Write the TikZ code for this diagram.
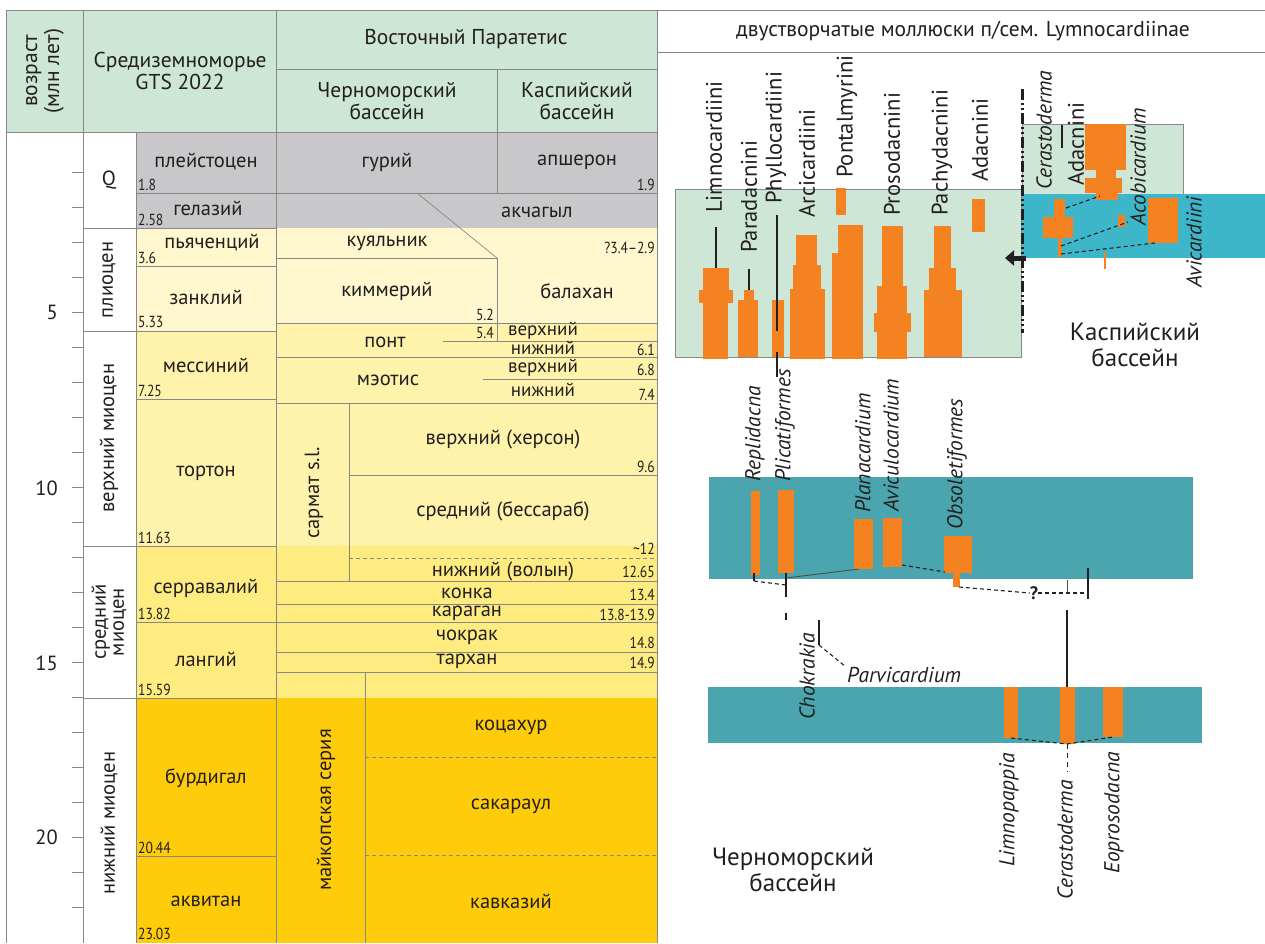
\documentclass[tikz,border=0pt]{standalone}
\usepackage{fontspec}
\setmainfont{PT Sans}
\newfontfamily\numfont[FakeStretch=0.85]{PT Sans}
\usetikzlibrary{arrows.meta}
\definecolor{hdr}{RGB}{205,230,213}
\definecolor{gry}{RGB}{200,200,203}
\definecolor{plio}{RGB}{255,247,205}
\definecolor{umio}{RGB}{255,243,172}
\definecolor{mmio}{RGB}{255,236,128}
\definecolor{lmio}{RGB}{254,204,10}
\definecolor{gridc}{RGB}{135,135,135}
\definecolor{orng}{RGB}{245,130,32}
\definecolor{cyanb}{RGB}{62,182,202}
\definecolor{tealb}{RGB}{75,165,175}
\definecolor{ink}{RGB}{35,31,32}
\begin{document}
\begin{tikzpicture}[x={(1pt,0)},y={(0,-1pt)},
  grid/.style={draw=gridc, line width=0.7pt},
  griddash/.style={grid, dash pattern=on 4pt off 3pt},
  txt/.style={font=\fontsize{20.5}{19}\selectfont, inner sep=0pt, align=center, text=ink},
  sml/.style={font=\fontsize{19}{19}\selectfont, inner sep=0pt, align=center, text=ink},
  hd/.style={font=\fontsize{21.5}{22}\selectfont, inner sep=0pt, align=center, text=ink},
  num/.style={font=\numfont\fontsize{16}{17}\selectfont, inner sep=0pt, text=ink},
  lab/.style={font=\fontsize{22.5}{23}\selectfont, inner sep=0pt, rotate=90, anchor=west, text=ink},
  gen/.style={font=\itshape\fontsize{21.5}{22}\selectfont, inner sep=0pt, rotate=90, anchor=west, text=ink},
  big/.style={font=\fontsize{25}{26}\selectfont, inner sep=0pt, align=center, text=ink},
  tax/.style={line width=2.5pt, ink},
  dl/.style={draw=ink, line width=1.1pt, dash pattern=on 4pt off 3pt},
  ob/.style={fill=orng}]
\useasboundingbox (0,0) rectangle (1265,943);
\fill[white] (0,0) rectangle (1265,943);
% ---------- fills of the table
\fill[hdr] (6,10) rectangle (657,132);
\fill[gry] (136,132) rectangle (657,228);
\fill[plio] (136,228) rectangle (276,331);
\fill[plio] (276,228) rectangle (657,323);
\fill[umio] (136,331) rectangle (276,546);
\fill[umio] (276,323) rectangle (657,546);
\fill[mmio] (136,546) rectangle (657,698);
\fill[lmio] (136,698) rectangle (657,943);
% ---------- grid
\draw[grid] (6,10) -- (1265,10);
\draw[grid] (657,52) -- (1265,52);
\draw[grid] (6,132) -- (657,132);
\draw[grid] (276,69) -- (657,69);
\draw[grid] (497,69) -- (497,132);
\draw[grid] (6,10) -- (6,943);
\draw[grid] (83,10) -- (83,943);
\draw[grid] (136,132) -- (136,943);
\draw[grid] (276,10) -- (276,943);
\draw[grid] (657,10) -- (657,943);
\foreach \yy in {228,331,546,698} \draw[grid] (83,\yy) -- (276,\yy);
\foreach \yy in {193,266,399,622,856} \draw[grid] (136,\yy) -- (276,\yy);
\foreach \t in {1,...,22} \draw[grid] (72,137.5+35*\t) -- (83,137.5+35*\t);
% Paratethys lines
\draw[grid] (276,193) -- (657,193);
\draw[grid] (417,193) -- (497,258);
\draw[grid] (276,258) -- (497,258);
\draw[grid] (497,132) -- (497,193);
\draw[grid] (497,258) -- (497,341);
\draw[grid] (276,323) -- (657,323);
\draw[grid] (443,341) -- (657,341);
\draw[grid] (276,357) -- (657,357);
\draw[grid] (483,379) -- (657,379);
\draw[grid] (276,403) -- (657,403);
\draw[grid] (349,403) -- (349,581);
\draw[grid] (349,475) -- (657,475);
\draw[griddash] (349,558) -- (657,558);
\foreach \yy in {581,604,622,652,672} \draw[grid] (276,\yy) -- (657,\yy);
\draw[grid] (365,672) -- (365,943);
\draw[griddash] (365,757) -- (657,757);
\draw[griddash] (365,855) -- (657,855);
% ---------- header texts
\node[hd, rotate=90] (hage) at (45,71) {возраст\\(млн лет)};
\node[hd] (hmed) at (180,71) {Средиземноморье\\GTS 2022};
\node[hd] (hpar) at (466,39) {Восточный Паратетис};
\node[hd] (hbs) at (387,101) {Черноморский\\бассейн};
\node[hd] (hcs) at (577,101) {Каспийский\\бассейн};
\node[hd] (hmol) at (963,31) {двустворчатые моллюски п/сем. Lymnocardiinae};
% ---------- age axis
\node[txt, anchor=east] (a5) at (58,312) {5};
\node[txt, anchor=east] (a10) at (58,488) {10};
\node[txt, anchor=east] (a15) at (58,663) {15};
\node[txt, anchor=east] (a20) at (58,837) {20};
% ---------- epochs
\node[txt] (eq) at (109,180) {Q};
\node[txt, rotate=90] (epl) at (109,280) {плиоцен};
\node[txt, rotate=90] (eum) at (109,438) {верхний миоцен};
\node[txt, rotate=90, font=\fontsize{20.5}{18}\selectfont] (emm) at (109,622) {средний\\миоцен};
\node[txt, rotate=90] (elm) at (109,823) {нижний миоцен};
% ---------- stages
\node[txt] (s1) at (206,162) {плейстоцен};
\node[txt] (s2) at (208,208) {гелазий};
\node[txt] (s3) at (212,243) {пьяченций};
\node[txt] (s4) at (206,297) {занклий};
\node[txt] (s5) at (206,365) {мессиний};
\node[txt] (s6) at (206,473) {тортон};
\node[txt] (s7) at (206,588) {серравалий};
\node[txt] (s8) at (206,659) {лангий};
\node[txt] (s9) at (206,778) {бурдигал};
\node[txt] (s10) at (206,901) {аквитан};
\node[num, anchor=base west] (n1) at (138,190) {1.8};
\node[num, anchor=base west] (n2) at (138,225) {2.58};
\node[num, anchor=base west] (n3) at (138,263) {3.6};
\node[num, anchor=base west] (n4) at (138,327) {5.33};
\node[num, anchor=base west] (n5) at (138,396) {7.25};
\node[num, anchor=base west] (n6) at (138,543) {11.63};
\node[num, anchor=base west] (n7) at (138,619) {13.82};
\node[num, anchor=base west] (n8) at (138,695) {15.59};
\node[num, anchor=base west] (n9) at (138,853) {20.44};
\node[num, anchor=base west] (n10) at (138,939) {23.03};
% ---------- Paratethys
\node[txt] (p1) at (387,162) {гурий};
\node[txt] (p2) at (577,162) {апшерон};
\node[txt] (p3) at (537,212) {акчагыл};
\node[txt] (p4) at (387,243) {куяльник};
\node[txt] (p5) at (387,291) {киммерий};
\node[txt] (p6) at (577,291) {балахан};
\node[txt] (p7) at (385,342) {понт};
\node[sml] (p8) at (543,331) {верхний};
\node[sml] (p9) at (543,348) {нижний};
\node[txt] (p10) at (388,380) {мэотис};
\node[sml] (p11) at (543,368) {верхний};
\node[sml] (p12) at (543,390) {нижний};
\node[txt, rotate=90] (p13) at (314,493) {сармат s.l.};
\node[txt] (p14) at (503,439) {верхний (херсон)};
\node[txt] (p15) at (503,511) {средний (бессараб)};
\node[txt] (p16) at (503,571) {нижний (волын)};
\node[txt] (p17) at (467,593) {конка};
\node[txt] (p18) at (467,613) {караган};
\node[txt] (p19) at (467,637) {чокрак};
\node[txt] (p20) at (467,661) {тархан};
\node[txt, rotate=90] (p21) at (326,810) {майкопская серия};
\node[txt] (p22) at (511,727) {коцахур};
\node[txt] (p23) at (511,806) {сакараул};
\node[txt] (p24) at (511,901) {кавказий};
\node[num, anchor=base east] (m1) at (655,190) {1.9};
\node[num, anchor=base east] (m2) at (655,253) {?3.4–2.9};
\node[num, anchor=base east] (m3) at (494,320) {5.2};
\node[num, anchor=base east] (m4) at (494,338) {5.4};
\node[num, anchor=base east] (m5) at (655,355) {6.1};
\node[num, anchor=base east] (m6) at (655,375) {6.8};
\node[num, anchor=base east] (m7) at (655,400) {7.4};
\node[num, anchor=base east] (m8) at (655,472) {9.6};
\node[num, anchor=base east] (m9) at (655,554) {\textasciitilde12};
\node[num, anchor=base east] (m10) at (655,577) {12.65};
\node[num, anchor=base east] (m11) at (655,600) {13.4};
\node[num, anchor=base east] (m12) at (655,620) {13.8-13.9};
\node[num, anchor=base east] (m13) at (655,648) {14.8};
\node[num, anchor=base east] (m14) at (655,668) {14.9};
% ================= right panel
\fill[hdr, draw=gridc, line width=0.6pt] (675,189) rectangle (1021,357);
\fill[hdr, draw=gridc, line width=0.6pt] (1022,124) rectangle (1183,194);
\fill[cyanb] (1022,194) rectangle (1265,258);
\fill[tealb] (709,477) rectangle (1193,579);
\fill[tealb] (708,687) rectangle (1202,743);
% Limnocardiini
\draw[tax] (716,227) -- (716,268);
\fill[ob] (703,268) rectangle (729,290);
\fill[ob] (699,290) rectangle (733,303);
\fill[ob] (703,303) rectangle (728,359);
% Paradacnini
\draw[tax] (749,269) -- (749,290);
\fill[ob] (744,290) rectangle (754,300);
\fill[ob] (738,300) rectangle (758,357);
% Phyllocardiini
\fill[ob] (772,300) rectangle (784,357);
\draw[tax] (777,215) -- (777,331);
\draw[tax] (777,352) -- (777,377);
% Arcicardiini
\fill[ob] (796,235) rectangle (817,265);
\fill[ob] (793,265) rectangle (821,289);
\fill[ob] (790,289) rectangle (825,359);
% Pontalmyrini
\fill[ob] (836,188) rectangle (846,215);
\fill[ob] (838,225) rectangle (863,253);
\fill[ob] (832,253) rectangle (863,359);
% Prosodacnini
\fill[ob] (882,226) rectangle (903,286);
\fill[ob] (877,286) rectangle (907,313);
\fill[ob] (874,313) rectangle (911,332);
\fill[ob] (877,332) rectangle (907,359);
% Pachydacnini
\fill[ob] (934,226) rectangle (951,268);
\fill[ob] (929,268) rectangle (956,290);
\fill[ob] (924,290) rectangle (962,357);
% Adacnini (left)
\fill[ob] (972,199) rectangle (985,232);
% upper right group
\fill[ob] (1085,124) rectangle (1126,170);
\fill[ob] (1096,170) rectangle (1116,178);
\fill[ob] (1085,178) rectangle (1122,193);
\fill[ob] (1096,193) rectangle (1118,200);
\draw[tax] (1062,125) -- (1062,148);
\fill[ob] (1054,199) rectangle (1065,217);
\fill[ob] (1043,217) rectangle (1073,238);
\fill[ob] (1058,238) rectangle (1062,257);
\fill[ob] (1118,215) rectangle (1125,227);
\fill[ob] (1148,198) rectangle (1178,243);
\draw[orng, line width=1.5pt] (1105,252) -- (1105,269);
\coordinate (c1) at (1066,208); \coordinate (c2) at (1100,196);
\coordinate (c3) at (1061,246); \coordinate (c4) at (1128,222);
\coordinate (c5) at (1061,254); \coordinate (c6) at (1155,243);
\draw[dl] (c1) -- (c2);
\draw[dl] (c3) -- (c4);
\draw[dl] (c5) -- (c6);
% dash-dot divider and arrow
\draw[line width=3pt, ink, dash pattern=on 11pt off 3pt on 2pt off 3pt on 2pt off 3pt] (1022,89) -- (1022,333);
\coordinate (ar1) at (1026,258); \coordinate (ar2) at (1005,258);
\draw[line width=5pt, ink, -{Triangle[length=9pt,width=15pt]}] (ar1) -- (ar2);
% middle box bars
\fill[ob] (751,491) rectangle (760,575);
\fill[ob] (778,490) rectangle (794,573);
\fill[ob] (854,519) rectangle (873,569);
\fill[ob] (883,518) rectangle (902,567);
\fill[ob] (944,536) rectangle (972,573);
\fill[ob] (953,573) rectangle (960,587);
\coordinate (r1) at (754,573); \coordinate (r2) at (754,581); \coordinate (r3) at (786,585);
\draw[ink, line width=1.6pt] (r1) -- (r2);
\draw[dl] (r2) -- (r3);
\draw[tax] (786,573) -- (786,597);
\draw[tax] (786,613) -- (786,620);
\draw[ink!80, line width=0.9pt] (786,578) -- (859,569);
\draw[dl] (902,565) -- (945,572);
\node[font=\bfseries\fontsize{18}{20}\selectfont, text=ink, inner sep=0pt] (q) at (1034,593) {?};
\draw[dl] (959,587) -- (q.west);
\draw[dl] (q.east) -- (1088,593);
\draw[ink!80, line width=0.9pt] (1067,580) -- (1067,593);
\draw[tax] (1088,568) -- (1088,599);
\draw[tax] (1067,610) -- (1067,687);
\draw[tax] (819,620) -- (819,645);
\draw[dl] (819,645) -- (846,667);
% lower box bars
\fill[ob] (1004,687) rectangle (1018,738);
\fill[ob] (1060,687) rectangle (1075,744);
\fill[ob] (1103,687) rectangle (1123,737);
\draw[dl] (1011,738) -- (1067,744) -- (1113,737);
\draw[draw=ink, line width=0.9pt, dash pattern=on 5pt off 4pt] (1067,744) -- (1067,772);
% ---------- right panel labels
\node[lab] (l1) at (714,213) {Limnocardiini};
\node[lab] (l2) at (749,253) {Paradacnini};
\node[lab] (l3) at (776,204) {Phyllocardiini};
\node[lab] (l4) at (807,218) {Arcicardiini};
\node[lab] (l5) at (847,178) {Pontalmyrini};
\node[lab] (l6) at (892,216) {Prosodacnini};
\node[lab] (l7) at (942,216) {Pachydacnini};
\node[lab] (l8) at (980,182) {Adacnini};
\node[gen] (g1) at (1044,190) {Cerastoderma};
\node[lab] (l9) at (1076,186) {Adacnini};
\node[gen] (g2) at (1138,226) {Acobicardium};
\node[gen] (g3) at (1194,288) {Avicardiini};
\node[gen] (g4) at (755,482) {Replidacna};
\node[gen] (g5) at (785,482) {Plicatiformes};
\node[gen] (g6) at (863,513) {Planacardium};
\node[gen] (g7) at (891,512) {Aviculocardium};
\node[gen] (g8) at (957,530) {Obsoletiformes};
\node[gen] (g9) at (807,720) {Chokrakia};
\node[gen, anchor=east] (g10) at (1009,753) {Limnopappia};
\node[gen, anchor=east] (g11) at (1065,780) {Cerastoderma};
\node[gen, anchor=east] (g12) at (1114,752) {Eoprosodacna};
\node[font=\itshape\fontsize{21.5}{22}\selectfont, inner sep=0pt, anchor=west, text=ink] (g13) at (847,675) {Parvicardium};
\node[big] (kasp) at (1135,345) {Каспийский\\бассейн};
\node[big] (cher) at (793,870) {Черноморский\\бассейн};
\end{tikzpicture}
\end{document}
